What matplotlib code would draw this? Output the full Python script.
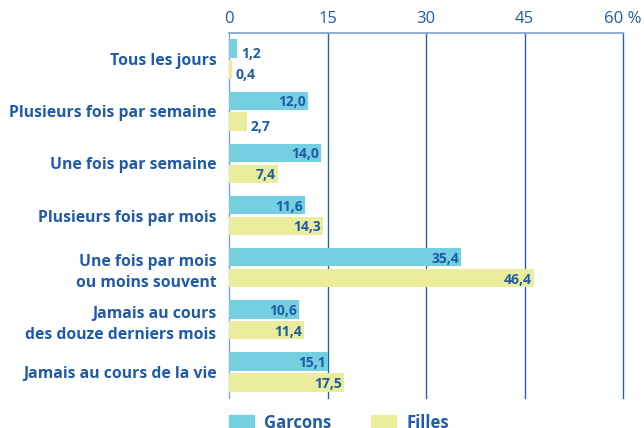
import matplotlib.pyplot as plt
import numpy as np
from matplotlib.patches import Patch

categories = ["Tous les jours", "Plusieurs fois par semaine", "Une fois par semaine",
              "Plusieurs fois par mois", "Une fois par mois\nou moins souvent",
              "Jamais au cours\ndes douze derniers mois", "Jamais au cours de la vie"]
garcons = [1.2, 12.0, 14.0, 11.6, 35.4, 10.6, 15.1]
filles = [0.4, 2.7, 7.4, 14.3, 46.4, 11.4, 17.5]
ticks = [0, 15, 30, 45, 60]
tick_labels = ["0", "15", "30", "45", "60 %"]

blue = "#1f5ba8"
cyan = "#74cfe1"
yellow = "#eaed9c"

plt.rcParams['font.family'] = ['Open Sans', 'DejaVu Sans']

fig = plt.figure(figsize=(6.44, 4.28), dpi=100)
ax = fig.add_axes([229 / 644, 1 - 398 / 428, 394 / 644, 365 / 428])

y = np.arange(len(categories))
h = 0.355
off = 0.2
ax.barh(y - off, garcons, height=h, color=cyan, zorder=3)
ax.barh(y + off, filles, height=h, color=yellow, zorder=3)


def put_label(v, yy):
    s = f"{v:.1f}".replace(".", ",")
    if v < 5:
        ax.text(v + 0.6, yy + 0.1, s, ha="left", va="center", fontsize=10,
                fontweight="bold", color=blue, zorder=4)
    else:
        ax.text(v - 0.3, yy + 0.03, s, ha="right", va="center", fontsize=10,
                fontweight="bold", color=blue, zorder=4)


for i in range(len(categories)):
    put_label(garcons[i], y[i] - off)
    put_label(filles[i], y[i] + off)

ax.set_xlim(0, 60)
ax.set_ylim(len(categories) - 0.5, -0.5)
ax.xaxis.tick_top()
ax.set_xticks(ticks)
ax.set_xticklabels(tick_labels)
ax.tick_params(axis="x", length=0, pad=4, labelsize=12, labelcolor=blue)
ax.set_yticks(y)
ax.set_yticklabels(categories, fontsize=11.3, fontweight="bold", color=blue,
                   linespacing=1.45)
ax.tick_params(axis="y", length=0, pad=9)

for t in ticks[1:]:
    ax.axvline(t, color="#2562b0", lw=1.0, zorder=1, clip_on=False)
for s in ["right", "bottom"]:
    ax.spines[s].set_visible(False)
ax.spines["top"].set_color("#7f9fd0")
ax.spines["left"].set_color("#7f9fd0")
ax.spines["top"].set_linewidth(1.2)
ax.spines["left"].set_linewidth(1.0)

handles = [Patch(color=cyan, label="Garcons"), Patch(color=yellow, label="Filles")]
fig.legend(handles=handles, loc="lower left", bbox_to_anchor=(214 / 644, -0.045),
           ncol=2, frameon=False, handlelength=1.5, handleheight=1.1,
           handletextpad=0.6, columnspacing=2.4,
           prop={"weight": "bold", "size": 12}, labelcolor=blue)

fig.savefig("out.png", dpi=100)
